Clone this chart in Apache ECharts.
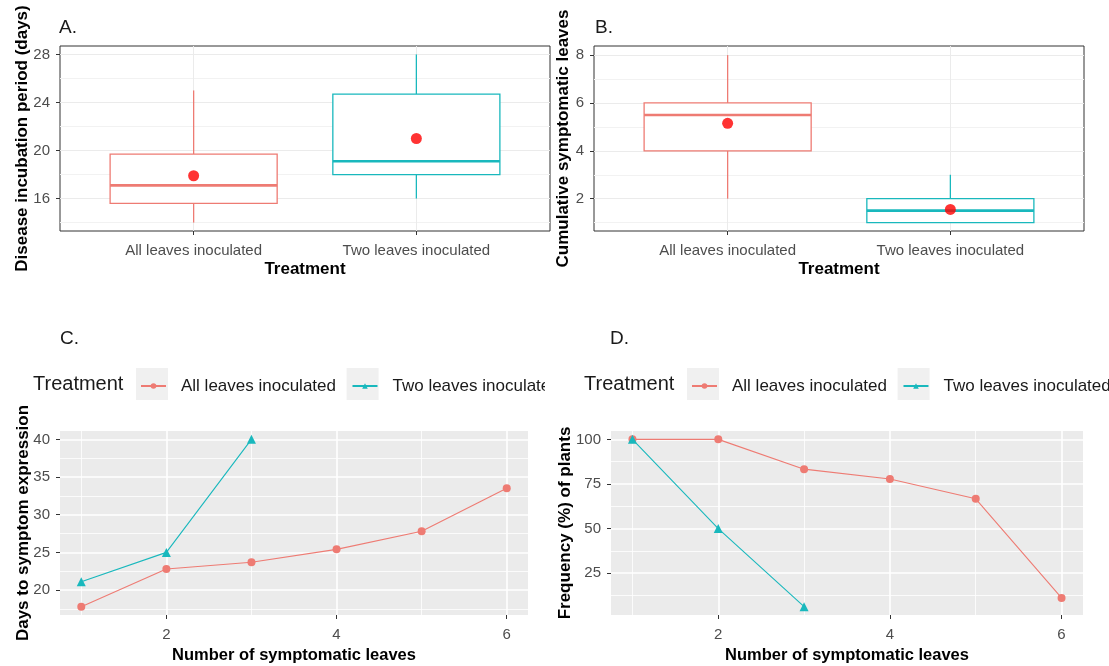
<!DOCTYPE html>
<html>
<head>
<meta charset="utf-8">
<script src="https://cdn.jsdelivr.net/npm/echarts@6/dist/echarts.min.js"></script>
<style>
html, body { margin: 0; padding: 0; background: #fff; }
#wrap { position: relative; width: 1109px; height: 666px; overflow: hidden; }
.panel { position: absolute; }
</style>
</head>
<body>
<div id="wrap">
  <div id="chartA" class="panel" style="left:0;top:0;width:551px;height:290px"></div>
  <div id="chartB" class="panel" style="left:551px;top:0;width:558px;height:290px"></div>
  <div id="chartC" class="panel" style="left:0;top:290px;width:545px;height:376px"></div>
  <div id="chartD" class="panel" style="left:545px;top:290px;width:564px;height:376px"></div>
</div>
<script>
// data
const treatments = ['All leaves inoculated', 'Two leaves inoculated']
const treatmentPos = [1, 2]

// [min, Q1, median, Q3, max]
const incubationBoxes = [
  [14.0, 15.6, 17.1, 19.7, 25.0],
  [16.0, 18.0, 19.1, 24.7, 28.0],
]
const incubationMeans = [17.9, 21.0]
const incubationTicks = [16, 20, 24, 28]
const incubationMinor = [14, 18, 22, 26]

const leavesBoxes = [
  [2, 4, 5.5, 6, 8],
  [1, 1, 1.5, 2, 3],
]
const leavesMeans = [5.15, 1.55]
const leavesTicks = [2, 4, 6, 8]
const leavesMinor = [1, 3, 5, 7]

const symptomLeaves = [1, 2, 3, 4, 5, 6]
const symptomTicks = [2, 4, 6]
const symptomMinor = [1, 3, 5]

const daysAll = [17.8, 22.8, 23.7, 25.4, 27.8, 33.5]
const daysTwo = [21.1, 25.0, 40.0]
const daysTicks = [20, 25, 30, 35, 40]
const daysMinor = [17.5, 22.5, 27.5, 32.5, 37.5]

const freqAll = [100, 100, 83.3, 77.8, 66.7, 11.1]
const freqTwo = [100, 50, 6.25]
const freqTicks = [25, 50, 75, 100]
const freqMinor = [12.5, 37.5, 62.5, 87.5]

const FONT = "'Liberation Sans', Arial, sans-serif"
const RED = '#EE7B73'
const TEAL = '#19B8BD'
const boxColors = [RED, TEAL]

// ggplot-like boxplot drawn with the grid's own scales
const boxRender = (params, api) => {
  const x = api.value(0)
  const lo = api.coord([x, api.value(1)])
  const q1 = api.coord([x, api.value(2)])
  const med = api.coord([x, api.value(3)])
  const q3 = api.coord([x, api.value(4)])
  const hi = api.coord([x, api.value(5)])
  const half = api.size([0.75, 0])[0] / 2
  const color = boxColors[params.dataIndex]
  const thin = { stroke: color, lineWidth: 1.3 }
  return {
    type: 'group',
    children: [
      { type: 'line', shape: { x1: lo[0], y1: lo[1], x2: q1[0], y2: q1[1] }, style: thin },
      { type: 'line', shape: { x1: q3[0], y1: q3[1], x2: hi[0], y2: hi[1] }, style: thin },
      {
        type: 'rect',
        shape: { x: q1[0] - half, y: q3[1], width: half * 2, height: q1[1] - q3[1] },
        style: { fill: '#fff', stroke: color, lineWidth: 1.3 },
      },
      {
        type: 'line',
        shape: { x1: med[0] - half, y1: med[1], x2: med[0] + half, y2: med[1] },
        style: { stroke: color, lineWidth: 2.6 },
      },
    ],
  }
}

const axisNameStyle = (size) => ({ fontFamily: FONT, fontSize: size, fontWeight: 'bold', color: '#000' })
const tickLabel = { color: '#4d4d4d', fontSize: 15, fontFamily: FONT }
const tickStyle = { length: 4, lineStyle: { color: '#333', width: 1 } }

const boxOption = (o) => {
  const boxData = treatmentPos.map((x, i) => [x].concat(o.boxes[i]))
  const meanData = treatmentPos.map((x, i) => [x, o.means[i]])
  return {
    animation: false,
    textStyle: { fontFamily: FONT },
    title: {
      text: o.label,
      left: o.labelLeft,
      top: 18,
      padding: 0,
      textStyle: { fontFamily: FONT, fontSize: 19, fontWeight: 'normal', color: '#1a1a1a' },
    },
    grid: {
      left: o.gridLeft,
      top: 46,
      width: o.gridWidth,
      height: 185,
      outerBoundsMode: 'none',
      show: true,
      backgroundColor: '#fff',
      borderColor: '#333',
      borderWidth: 1,
    },
    xAxis: {
      type: 'value',
      min: 0.4,
      max: 2.6,
      axisLine: { show: false },
      axisTick: { ...tickStyle, customValues: treatmentPos },
      axisLabel: {
        ...tickLabel,
        customValues: treatmentPos,
        margin: 12,
        formatter: (v) => treatments[Math.round(v) - 1],
      },
      splitLine: { show: true, lineStyle: { color: '#ebebeb', width: 1 } },
      name: 'Treatment',
      nameLocation: 'middle',
      nameGap: 30,
      nameMoveOverlap: false,
      nameTextStyle: axisNameStyle(17),
    },
    yAxis: [
      {
        type: 'value',
        min: o.yMin,
        max: o.yMax,
        axisLine: { show: false },
        axisTick: { ...tickStyle, customValues: o.ticks },
        axisLabel: { ...tickLabel, customValues: o.ticks, margin: 10 },
        splitLine: { show: true, lineStyle: { color: '#ebebeb', width: 1 } },
        name: o.yName,
        nameLocation: 'middle',
        nameGap: o.nameGap,
        nameMoveOverlap: false,
        nameTextStyle: axisNameStyle(17),
      },
      {
        // minor grid lines only
        type: 'value',
        position: 'left',
        min: o.yMin,
        max: o.yMax,
        axisLine: { show: false },
        axisTick: { show: false, customValues: o.minor },
        axisLabel: { show: false, customValues: o.minor },
        splitLine: { show: true, lineStyle: { color: '#f2f2f2', width: 1 } },
      },
    ],
    series: [
      {
        type: 'custom',
        renderItem: boxRender,
        data: boxData,
        encode: { x: 0, y: [1, 2, 3, 4, 5] },
        z: 2,
      },
      {
        type: 'scatter',
        data: meanData,
        symbol: 'circle',
        symbolSize: 11,
        itemStyle: { color: '#f00' },
        z: 3,
      },
    ],
  }
}

const lineOption = (o) => {
  const allData = symptomLeaves.map((x, i) => [x, o.all[i]])
  const twoData = o.two.map((v, i) => [symptomLeaves[i], v])
  return {
    animation: false,
    textStyle: { fontFamily: FONT },
    title: {
      text: o.label,
      left: o.labelLeft,
      top: 39,
      padding: 0,
      textStyle: { fontFamily: FONT, fontSize: 19, fontWeight: 'normal', color: '#1a1a1a' },
    },
    legend: {
      left: o.legendLeft,
      top: 87.5,
      width: 900,
      padding: 0,
      itemWidth: 25,
      itemHeight: 7,
      itemGap: 15.5,
      data: treatments,
      textStyle: { fontFamily: FONT, fontSize: 17, color: '#1a1a1a', padding: [0, 0, 0, 10] },
    },
    graphic: [
      {
        type: 'text',
        x: o.legendTitleLeft,
        y: 94,
        style: { text: 'Treatment', font: '20px ' + FONT, fill: '#1a1a1a', verticalAlign: 'middle' },
      },
      {
        type: 'rect',
        shape: { x: o.legendLeft - 4, y: 78, width: 32, height: 32 },
        style: { fill: '#f0f0f0' },
        z: -1,
      },
      {
        type: 'rect',
        shape: { x: o.legendLeft - 4 + 210.6, y: 78, width: 32, height: 32 },
        style: { fill: '#f0f0f0' },
        z: -1,
      },
    ],
    grid: {
      left: o.gridLeft,
      top: 141,
      width: o.gridWidth,
      height: 184,
      outerBoundsMode: 'none',
      show: true,
      backgroundColor: '#ebebeb',
      borderWidth: 0,
    },
    xAxis: [
      {
        type: 'value',
        min: 0.75,
        max: 6.25,
        axisLine: { show: false },
        axisTick: { ...tickStyle, customValues: symptomTicks },
        axisLabel: { ...tickLabel, customValues: symptomTicks, margin: 12 },
        splitLine: { show: true, lineStyle: { color: '#fff', width: 1.6 } },
        name: 'Number of symptomatic leaves',
        nameLocation: 'middle',
        nameGap: 32,
        nameMoveOverlap: false,
        nameTextStyle: axisNameStyle(16.5),
      },
      {
        type: 'value',
        min: 0.75,
        max: 6.25,
        axisLine: { show: false },
        axisTick: { show: false, customValues: symptomMinor },
        axisLabel: { show: false, customValues: symptomMinor },
        splitLine: { show: true, lineStyle: { color: '#fff', width: 0.8 } },
      },
    ],
    yAxis: [
      {
        type: 'value',
        min: o.yMin,
        max: o.yMax,
        axisLine: { show: false },
        axisTick: { ...tickStyle, customValues: o.ticks },
        axisLabel: { ...tickLabel, customValues: o.ticks, margin: 10 },
        splitLine: { show: true, lineStyle: { color: '#fff', width: 1.6 } },
        name: o.yName,
        nameLocation: 'middle',
        nameGap: o.nameGap,
        nameMoveOverlap: false,
        nameTextStyle: axisNameStyle(17),
      },
      {
        type: 'value',
        position: 'left',
        min: o.yMin,
        max: o.yMax,
        axisLine: { show: false },
        axisTick: { show: false, customValues: o.minor },
        axisLabel: { show: false, customValues: o.minor },
        splitLine: { show: true, lineStyle: { color: '#fff', width: 0.8 } },
      },
    ],
    series: [
      {
        name: treatments[0],
        type: 'line',
        data: allData,
        symbol: 'circle',
        symbolSize: 8,
        itemStyle: { color: RED },
        lineStyle: { color: RED, width: 1.1 },
        z: 3,
      },
      {
        name: treatments[1],
        type: 'line',
        data: twoData,
        symbol: 'triangle',
        symbolSize: 9,
        itemStyle: { color: TEAL },
        lineStyle: { color: TEAL, width: 1.1 },
        z: 4,
      },
    ],
  }
}

const chartA = echarts.init(document.getElementById('chartA'), null, { renderer: 'canvas' })
chartA.setOption(
  boxOption({
    label: 'A.',
    labelLeft: 59,
    gridLeft: 60,
    gridWidth: 490,
    yMin: 13.3,
    yMax: 28.7,
    ticks: incubationTicks,
    minor: incubationMinor,
    boxes: incubationBoxes,
    means: incubationMeans,
    yName: 'Disease incubation period (days)',
    nameGap: 29,
  }),
)

const chartB = echarts.init(document.getElementById('chartB'), null, { renderer: 'canvas' })
chartB.setOption(
  boxOption({
    label: 'B.',
    labelLeft: 44,
    gridLeft: 43,
    gridWidth: 490,
    yMin: 0.65,
    yMax: 8.38,
    ticks: leavesTicks,
    minor: leavesMinor,
    boxes: leavesBoxes,
    means: leavesMeans,
    yName: 'Cumulative symptomatic leaves',
    nameGap: 22,
  }),
)

const chartC = echarts.init(document.getElementById('chartC'), null, { renderer: 'canvas' })
chartC.setOption(
  lineOption({
    label: 'C.',
    labelLeft: 60,
    legendTitleLeft: 33,
    legendLeft: 140,
    gridLeft: 60,
    gridWidth: 468,
    yMin: 16.69,
    yMax: 41.11,
    ticks: daysTicks,
    minor: daysMinor,
    all: daysAll,
    two: daysTwo,
    yName: 'Days to symptom expression',
    nameGap: 28,
  }),
)

const chartD = echarts.init(document.getElementById('chartD'), null, { renderer: 'canvas' })
chartD.setOption(
  lineOption({
    label: 'D.',
    labelLeft: 65,
    legendTitleLeft: 39,
    legendLeft: 146,
    gridLeft: 66,
    gridWidth: 472,
    yMin: 1.56,
    yMax: 104.69,
    ticks: freqTicks,
    minor: freqMinor,
    all: freqAll,
    two: freqTwo,
    yName: 'Frequency (%) of plants',
    nameGap: 37,
  }),
)
</script>
</body>
</html>
